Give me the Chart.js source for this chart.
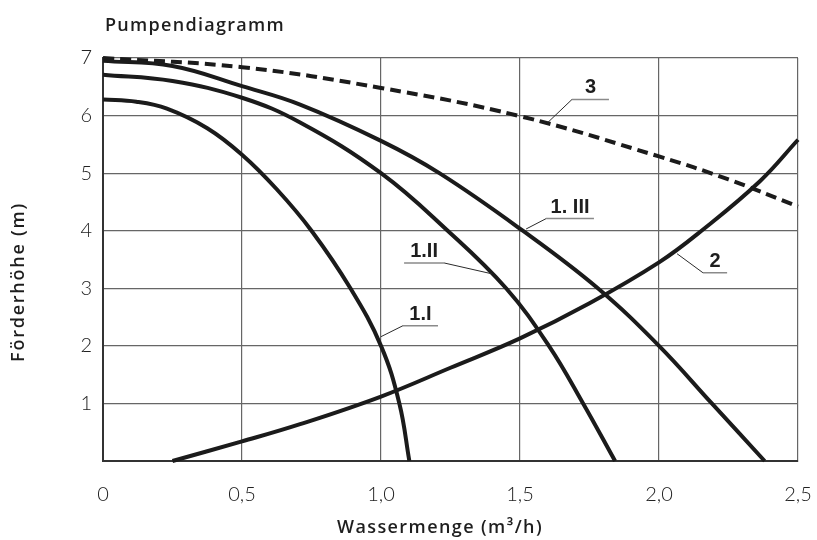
<!DOCTYPE html>
<html>
<head>
<meta charset="utf-8">
<script src="https://cdn.jsdelivr.net/npm/chart.js@4.4.1/dist/chart.umd.min.js"></script>
<style>
  html, body { margin: 0; padding: 0; background: #fff; }
  #wrap { width: 817px; height: 540px; }
</style>
</head>
<body>
<div id="wrap"><canvas id="pumpChart" width="817" height="540"></canvas></div>
<script>
// Kennlinien (x = Wassermenge m3/h, y = Förderhöhe m)
const curve1I_x   = [0, 0.12, 0.23, 0.375, 0.5, 0.625, 0.75, 0.89, 1.0, 1.066, 1.102];
const curve1I_y   = [6.28, 6.24, 6.12, 5.78, 5.32, 4.72, 4.0, 3.0, 2.0, 1.0, 0];
const curve1II_x  = [0, 0.25, 0.5, 0.709, 1.0, 1.24, 1.45, 1.604, 1.727, 1.842];
const curve1II_y  = [6.71, 6.6, 6.31, 5.88, 5.0, 4.0, 3.0, 2.0, 1.0, 0];
const curve1III_x = [0, 0.25, 0.5, 0.709, 1.0, 1.21, 1.51, 1.78, 2.0, 2.19, 2.38];
const curve1III_y = [6.95, 6.86, 6.51, 6.19, 5.56, 5.0, 4.0, 3.0, 2.0, 1.0, 0];
const curve2_x    = [0.25, 0.5, 0.709, 1.0, 1.25, 1.5, 1.75, 2.0, 2.153, 2.363, 2.5];
const curve2_y    = [0, 0.34, 0.64, 1.12, 1.62, 2.13, 2.74, 3.45, 4.0, 4.86, 5.58];
const curve3_x    = [0, 0.5, 1.0, 1.5, 2.0, 2.25, 2.5];
const curve3_y    = [7.0, 6.84, 6.48, 5.99, 5.29, 4.89, 4.42];

const xTicks = [0, 0.5, 1.0, 1.5, 2.0, 2.5];
const yTicks = [1, 2, 3, 4, 5, 6, 7];

// Beschriftungen der Kurven (Datenkoordinaten): Unterstrich + Hinweislinie
const labels = [
  { text: '3',      x0: 1.687, x1: 1.82,  y: 6.28, from: 'left',  tx: 1.60,  ty: 5.88 },
  { text: '1. III', x0: 1.594, x1: 1.766, y: 4.21, from: 'left',  tx: 1.522, ty: 4.03 },
  { text: '1.II',   x0: 1.083, x1: 1.227, y: 3.44, from: 'right', tx: 1.40,  ty: 3.25 },
  { text: '1.I',    x0: 1.079, x1: 1.205, y: 2.35, from: 'left',  tx: 1.0,   ty: 2.16 },
  { text: '2',      x0: 2.158, x1: 2.245, y: 3.27, from: 'left',  tx: 2.065, ty: 3.6 }
];

function toPoints(xs, ys) {
  return xs.map((x, i) => ({ x: x, y: ys[i] }));
}

function line(name, xs, ys, dashed) {
  return {
    label: name,
    data: toPoints(xs, ys),
    borderColor: '#1b1b1b',
    borderWidth: 4,
    borderDash: dashed ? [11, 6] : [],
    pointRadius: 0,
    tension: 0.4,
    fill: false,
    clip: 6
  };
}

// Text auf gewünschte Breite bringen (Avenir ist breiter als die installierten Schriften)
function spacedText(ctx, text, x, y, width) {
  ctx.letterSpacing = '0px';
  const w = ctx.measureText(text).width;
  const sp = Math.max(0, (width - w) / text.length);
  ctx.letterSpacing = sp.toFixed(2) + 'px';
  ctx.fillText(text, x, y);
  ctx.letterSpacing = '0px';
}

const textPlugin = {
  id: 'texte',
  afterDraw(chart) {
    const ctx = chart.ctx;
    const xs = chart.scales.x, ys = chart.scales.y;
    ctx.save();
    ctx.fillStyle = '#1e1e1e';

    // Titel
    ctx.font = '600 18px "Open Sans", Lato, sans-serif';
    ctx.textAlign = 'left';
    ctx.textBaseline = 'alphabetic';
    spacedText(ctx, 'Pumpendiagramm', 105, 31, 180);

    // Achsentitel
    ctx.textAlign = 'center';
    spacedText(ctx, 'Wassermenge (m³/h)', 440, 533, 206);
    ctx.save();
    ctx.translate(24, 282);
    ctx.rotate(-Math.PI / 2);
    spacedText(ctx, 'Förderhöhe (m)', 0, 0, 160);
    ctx.restore();

    // Kurvenbezeichnungen
    labels.forEach(l => {
      const px0 = xs.getPixelForValue(l.x0);
      const px1 = xs.getPixelForValue(l.x1);
      const py = ys.getPixelForValue(l.y);
      ctx.strokeStyle = '#8a8a8a';
      ctx.lineWidth = 1.5;
      ctx.beginPath();
      ctx.moveTo(px0, py);
      ctx.lineTo(px1, py);
      ctx.stroke();

      ctx.strokeStyle = '#2a2a2a';
      ctx.lineWidth = 1;
      ctx.beginPath();
      ctx.moveTo(l.from === 'left' ? px0 : px1, py);
      ctx.lineTo(xs.getPixelForValue(l.tx), ys.getPixelForValue(l.ty));
      ctx.stroke();

      ctx.font = 'bold 20px "Liberation Sans", Arial, sans-serif';
      ctx.textAlign = 'center';
      ctx.textBaseline = 'alphabetic';
      ctx.fillText(l.text, (px0 + px1) / 2, py - 6);
    });
    ctx.restore();
  }
};

const ctx = document.getElementById('pumpChart').getContext('2d');
new Chart(ctx, {
  type: 'line',
  data: {
    datasets: [
      line('1.I', curve1I_x, curve1I_y, false),
      line('1.II', curve1II_x, curve1II_y, false),
      line('1.III', curve1III_x, curve1III_y, false),
      line('2', curve2_x, curve2_y, false),
      line('3', curve3_x, curve3_y, true)
    ]
  },
  options: {
    responsive: false,
    animation: false,
    devicePixelRatio: 1,
    layout: { padding: { top: 58, right: 19, left: 0, bottom: 0 } },
    plugins: { legend: { display: false }, tooltip: { enabled: false } },
    scales: {
      x: {
        type: 'linear',
        min: 0, max: 2.5,
        afterFit: s => { s.height = 79; s.paddingLeft = 0; s.paddingRight = 0; },
        afterBuildTicks: s => { s.ticks = xTicks.map(v => ({ value: v })); },
        grid: { color: '#666', lineWidth: 1.2, drawTicks: false },
        border: { color: '#333', width: 2 },
        ticks: {
          padding: 22,
          color: '#222',
          font: { family: 'Lato, "Open Sans", sans-serif', size: 20, weight: 300 },
          callback: v => v === 0 ? '0' : v.toFixed(1).replace('.', ',')
        }
      },
      y: {
        min: 0, max: 7,
        afterFit: s => { s.width = 103; },
        afterBuildTicks: s => { s.ticks = [0].concat(yTicks).map(v => ({ value: v })); },
        grid: { color: '#666', lineWidth: 1.2, drawTicks: false },
        border: { color: '#333', width: 2 },
        ticks: {
          padding: 11,
          color: '#222',
          font: { family: 'Lato, "Open Sans", sans-serif', size: 20, weight: 300 },
          callback: v => v === 0 ? '' : String(v)
        }
      }
    }
  },
  plugins: [textPlugin]
});
</script>
</body>
</html>
